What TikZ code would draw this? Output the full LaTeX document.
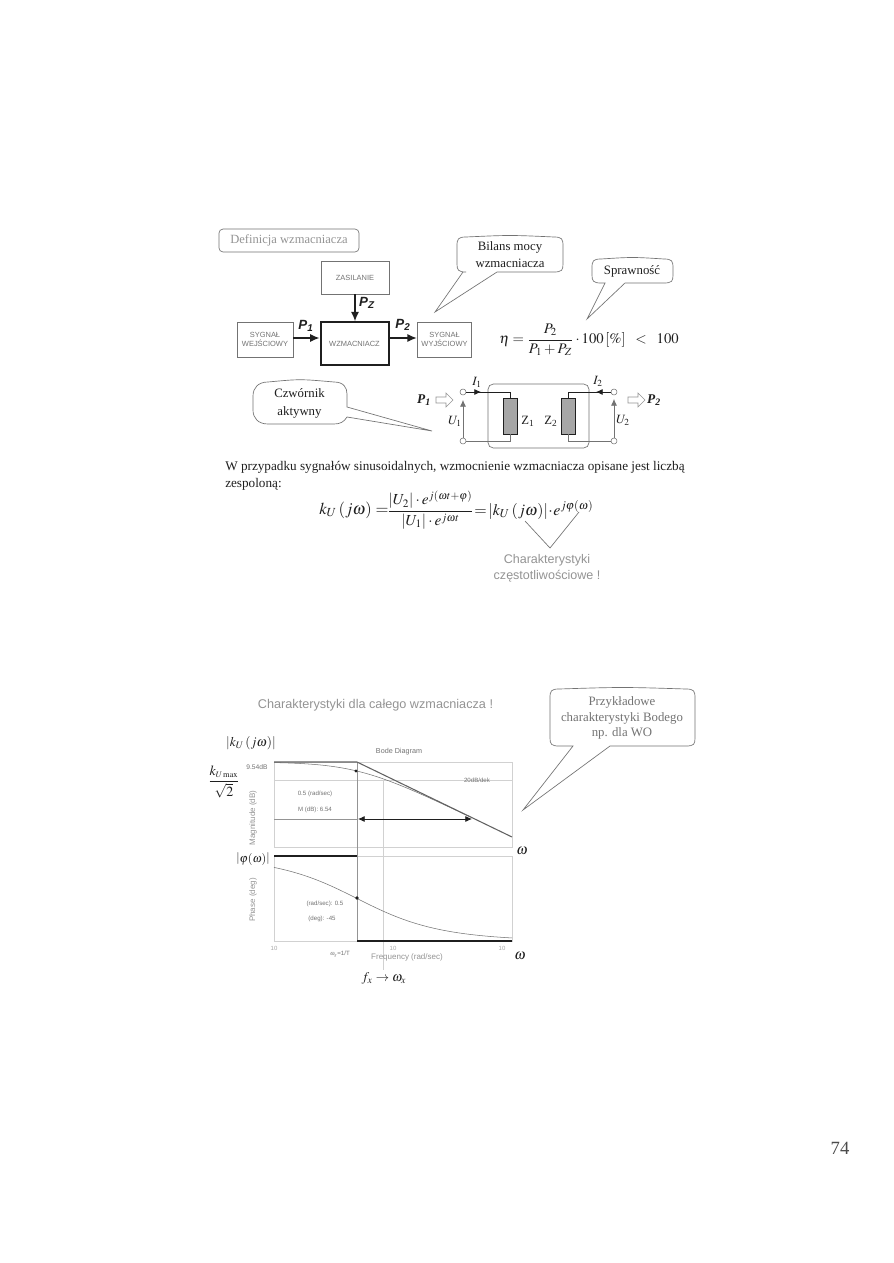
\documentclass[tikz,border=0pt]{standalone}
\usepackage{amsmath}
\usepackage{mathptmx}
\usepackage[no-math]{fontspec}
\setmainfont{Liberation Serif}
\setsansfont{Liberation Sans}
\usetikzlibrary{arrows.meta,calc}
\definecolor{ink}{gray}{0.12}
\definecolor{mid}{gray}{0.45}
\definecolor{soft}{gray}{0.58}
\definecolor{faint}{gray}{0.82}
\newcommand{\fs}[1]{\fontsize{#1}{#1}\selectfont}
% balloon: x1,y1,x2,y2, tail base start, tail base end, tip x, tip y (tail on the bottom edge)
\newcommand{\balloonB}[8]{%
 \draw[balloonline] ({#1+9},#2) .. controls ({(#1+#3)/2},{#2-2}) .. ({#3-9},#2)
  .. controls ({#3-1},#2) and (#3,{#2+2}) .. (#3,{#2+9})
  -- (#3,{#4-8}) .. controls (#3,{#4-2}) and ({#3-1},#4) .. ({#3-9},#4)
  -- (#6,#4) -- (#7,#8) -- (#5,#4) -- ({#1+9},#4)
  .. controls ({#1+1},#4) and (#1,{#4-2}) .. (#1,{#4-8})
  -- (#1,{#2+9}) .. controls (#1,{#2+2}) and ({#1+1},#2) .. ({#1+9},#2) -- cycle;}
% open block arrow from #1 to #2, horizontal, pointing right
\newcommand{\blockarrow}[2]{%
 \draw[hollow] ($(#1)+(0,-3)$) -- ($(#2)+(-7,-3)$) -- ($(#2)+(-7,-7)$) -- (#2)
   -- ($(#2)+(-7,7)$) -- ($(#2)+(-7,3)$) -- ($(#1)+(0,3)$) -- cycle;}
\tikzset{
 balloonline/.style={draw=mid,line width=0.5pt},
 ctext/.style={inner sep=0pt,align=center,text=ink,font=\fs{9.6}\rmfamily},
 blockbox/.style={draw=mid,line width=0.6pt,inner sep=0pt,align=center,font=\fs{5.6}\sffamily,text=mid},
 flow/.style={draw=ink,line width=0.9pt,-{Latex[length=7pt,width=6pt]}},
 plabel/.style={inner sep=0pt,font=\fs{10}\sffamily\bfseries\itshape,text=ink},
 port/.style={circle,draw=mid,fill=white,line width=0.4pt,inner sep=0pt,minimum size=4.5pt},
 wire/.style={draw=ink,line width=0.5pt},
 wiresoft/.style={draw=mid,line width=0.5pt},
 imped/.style={draw=ink,fill=gray!70,line width=0.5pt,inner sep=0pt,minimum width=10.5pt,minimum height=27pt},
 smallhead/.style={-{Latex[length=5pt,width=4.5pt]}},
 hollow/.style={line width=0.45pt,draw=soft,fill=white},
 mlabel/.style={inner sep=0pt,text=ink},
 axt/.style={inner sep=0pt,text=soft,font=\fs{4.8}\sffamily},
 axd/.style={inner sep=0pt,text=mid,font=\fs{4.6}\sffamily},
 axrot/.style={inner sep=0pt,text=soft,font=\fs{6}\sffamily,rotate=90},
 grid/.style={draw=faint,line width=0.4pt},
 tickl/.style={inner sep=0pt,text=faint!80!black,font=\fs{4.5}\sffamily},
}
\begin{document}
\begin{tikzpicture}[x=0.75pt,y=-0.75pt]
\useasboundingbox (0,0) rectangle (893,1263);
\fill[white] (0,0) rectangle (893,1263);

% heading
\node[draw=mid,rounded corners=3pt,line width=0.5pt,minimum width=105pt,minimum height=17.2pt,inner sep=0pt,text=soft,font=\fs{9.4}\rmfamily] (defbox) at (289,240.5) {Definicja wzmacniacza};

% balloons
\balloonB{457}{237}{563}{272}{463}{497}{435}{312}
\node[ctext] (bilans) at (510,254.5) {Bilans mocy\\[3.6pt]wzmacniacza};
\balloonB{592}{259}{673}{283}{605}{625}{587}{319}
\node[ctext] (spraw) at (632,271) {Sprawność};
% czwornik balloon (tail on right edge)
\draw[balloonline] (268,382) .. controls (300,379) .. (334,382) .. controls (344,382) and (347,388) .. (347,394)
 -- (347,407) -- (432,431) -- (347,417) .. controls (344,422) and (340,424) .. (334,424)
 -- (268,424) .. controls (258,424) and (253,418) .. (253,410) -- (253,396) .. controls (253,388) and (258,382) .. (268,382) -- cycle;
\node[ctext] (czw) at (299.5,403) {Czwórnik\\[3.8pt]aktywny};
\balloonB{550}{689}{695}{746}{573}{610}{523}{810}
\node[ctext,text=mid] (przyk) at (622,718) {Przykładowe\\[2pt]charakterystyki Bodego\\[2pt]np. dla WO};

% block diagram
\node[blockbox,minimum width=51pt,minimum height=24.7pt] (zas) at (355,277.5) {ZASILANIE};
\node[blockbox,draw=ink,line width=1.5pt,minimum width=51pt,minimum height=32pt] (wzm) at (354.5,343.5) {WZMACNIACZ};
\node[blockbox,minimum width=42pt,minimum height=26.2pt] (wej) at (265,339.5) {SYGNAŁ\\[1.5pt]WEJŚCIOWY};
\node[blockbox,minimum width=41pt,minimum height=26.2pt] (wyj) at (444.5,339.5) {SYGNAŁ\\[1.5pt]WYJŚCIOWY};
\draw[flow] (zas.south) -- (zas.south |- wzm.north);
\draw[flow] (wej.east |- 0,338) -- (wzm.west |- 0,338);
\draw[flow] (wzm.east |- 0,338) -- (wyj.west |- 0,338);
\node[plabel] (pz) at (367,303) {P\textsubscript{Z}};
\node[plabel] (p1) at (306,326) {P\textsubscript{1}};
\node[plabel] (p2) at (403,325) {P\textsubscript{2}};

% efficiency formula
\node[mlabel,font=\fs{11}] (eff) at (589,340) {$\eta=\dfrac{P_2}{P_1+P_Z}\cdot 100\left[\%\right]\;\;<\;\;100$};

% two-port
\node[draw=mid,rounded corners=4pt,line width=0.5pt,minimum width=75.75pt,minimum height=48pt,inner sep=0pt] (frame) at (538.5,416) {};
\node[port] (a1) at (463,392) {};
\node[port] (a2) at (463,441) {};
\node[port] (b1) at (614,392) {};
\node[port] (b2) at (614,441) {};
\node[imped] (z1) at (510,416) {};
\node[imped] (z2) at (568,416) {};
\draw[wire] (a1) -- (z1.north |- a1) -- (z1.north);
\draw[wiresoft] (a2) -- (z1.south |- a2) -- (z1.south);
\draw[wire] (b1) -- (z2.north |- b1) -- (z2.north);
\draw[wiresoft] (b2) -- (z2.south |- b2) -- (z2.south);
\coordinate (i1tip) at (481,392);
\coordinate (i2tip) at (596,392);
\draw[draw=ink,line width=0.6pt,smallhead] (a1) -- (i1tip);
\draw[draw=ink,line width=0.6pt,smallhead] (b1) -- (i2tip);
\coordinate (u1tip) at (463,400);
\coordinate (u2tip) at (614,399);
\draw[draw=mid,line width=0.5pt,smallhead] (a2) -- (u1tip);
\draw[draw=mid,line width=0.5pt,smallhead] (b2) -- (u2tip);
\node[mlabel,font=\fs{9.5}] (i1) at (477,382) {$I_1$};
\node[mlabel,font=\fs{9.5}] (i2) at (598,381) {$I_2$};
\node[mlabel,font=\fs{9.5}] (u1) at (455,421) {$U_1$};
\node[mlabel,font=\fs{9.5}] (u2) at (623,420) {$U_2$};
\node[mlabel,font=\fs{9.5}\rmfamily] (z1l) at (528,421) {Z\textsubscript{1}};
\node[mlabel,font=\fs{9.5}\rmfamily] (z2l) at (551,421) {Z\textsubscript{2}};
\node[mlabel,font=\fs{10}\rmfamily\bfseries\itshape] (pp1) at (424,400) {P\textsubscript{1}};
\node[mlabel,font=\fs{10}\rmfamily\bfseries\itshape] (pp2) at (654,400) {P\textsubscript{2}};
\coordinate (h1a) at (436,400); \coordinate (h1b) at (453,400);
\coordinate (h2a) at (628,400); \coordinate (h2b) at (645,400);
\blockarrow{h1a}{h1b}
\blockarrow{h2a}{h2b}

% text
\node[inner sep=0pt,anchor=west,text=ink,font=\fs{9.9}\rmfamily] (t1) at (225,467) {\makebox[344.5pt][s]{W przypadku sygnałów sinusoidalnych, wzmocnienie wzmacniacza opisane jest liczbą}};
\node[inner sep=0pt,anchor=west,text=ink,font=\fs{9.9}\rmfamily] (t2) at (225,484) {zespoloną:};

% gain formula
\node[mlabel,font=\fs{12.5},anchor=west] (gainl) at (319,510) {$k_U\left(j\omega\right)=$};
\node[mlabel,font=\fs{11.5}] (gainf) at (430.5,510) {$\dfrac{\left|U_2\right|\cdot e^{j(\omega t+\varphi)}}{\left|U_1\right|\cdot e^{j\omega t}}$};
\node[mlabel,font=\fs{12},anchor=west] (gainr) at (474,510) {$=\!\left|k_U\left(j\omega\right)\right|\!\cdot\! e^{j\varphi(\omega)}$};
\coordinate (vee) at (550,548);
\coordinate (veeL) at (525,521);
\coordinate (veeR) at (579,512);
\draw[draw=mid,line width=0.5pt] (veeL) -- (vee) -- (veeR);
\node[inner sep=0pt,text=soft,align=center,font=\fs{9.4}\sffamily] (chr) at (547,568) {Charakterystyki\\[2.5pt]częstotliwościowe !};

% Bode
\node[inner sep=0pt,text=soft,font=\fs{9.5}\sffamily] (title) at (375.5,705) {Charakterystyki dla całego wzmacniacza !};
\node[mlabel,font=\fs{10}] (ku) at (251,743) {$\left|k_U\left(j\omega\right)\right|$};
\node[axd,font=\fs{5.4}\sffamily] (bd) at (399,752) {Bode Diagram};
\node[mlabel,font=\fs{10.5}] (kmax) at (224,782) {$\dfrac{k_{\scriptscriptstyle U\max}}{\sqrt{2}}$};
\node[axd,font=\fs{5}\sffamily] (db) at (257,767) {9.54dB};
\node[draw=faint,line width=0.5pt,minimum width=178.5pt,minimum height=63.75pt,inner sep=0pt] (mag) at (393,804.5) {};
\node[draw=faint,line width=0.5pt,minimum width=178.5pt,minimum height=63.75pt,inner sep=0pt] (pha) at (393,898.5) {};
\draw[grid] (mag.west |- 0,780) -- (mag.east |- 0,780);
\coordinate (glt) at (383,780);
\coordinate (glb) at (383,970);
\draw[grid] (glt) -- (glb);
\draw[draw=soft,line width=0.7pt] (357,762) -- (357,941);
% asymptotes and curves
\draw[draw=mid,line width=0.4pt] plot[domain=274:470,samples=50] (\x,{762+30*log10(1+10^(2*(\x-357)/124))});
\draw[draw=ink!70,line width=0.8pt] (274,762) -- (357,762) -- (512,837);
\draw[draw=mid,line width=0.4pt] plot[domain=274:512,samples=60] (\x,{856+85/90*atan(10^((\x-357)/124))});
\draw[draw=ink,line width=0.9pt] (274,856) -- (357,856);
\draw[draw=ink,line width=0.9pt] (357,941) -- (512,941);
\fill[ink] (356,771) circle (1.2pt);
\fill[ink] (357,898) circle (1.4pt);
\draw[draw=soft,line width=0.5pt] (274,819) -- (358,819);
\coordinate (ml) at (358,819);
\coordinate (mr) at (472,819);
\draw[draw=ink,line width=0.6pt,{Latex[length=5pt,width=4.5pt]}-{Latex[length=5pt,width=4.5pt]}] (ml) -- (mr);
\node[axd] (n1) at (315,794) {0.5 (rad/sec)};
\node[axd] (n2) at (315,810) {M (dB): 6.54};
\node[axd] (n3) at (477,780) {20dB/dek};
\node[axrot] (lm) at (253,818) {Magnitude (dB)};
\node[axrot] (lp) at (253,900) {Phase (deg)};
\node[mlabel,font=\fs{11}] (w1) at (522,851) {$\omega$};
\node[mlabel,font=\fs{11}] (w2) at (520,956) {$\omega$};
\node[mlabel,font=\fs{9}] (phi) at (253,859) {$\left|\varphi(\omega)\right|$};
\node[axd] (n4) at (325,904) {(rad/sec): 0.5};
\node[axd] (n5) at (322,919) {(deg): -45};
\node[axd] (wg) at (340,954) {$\omega_g$=1/T};
\node[axt,font=\fs{6}\sffamily] (fr) at (407,957) {Frequency (rad/sec)};
\node[tickl] (t10a) at (274,948) {10};
\node[tickl] (t10b) at (393,948) {10};
\node[tickl] (t10c) at (502,948) {10};
\node[mlabel,font=\fs{10}] (fx) at (384,978) {$f_x\rightarrow\omega_x$};

% page number
\node[inner sep=0pt,text=ink!80,font=\fs{14}\rmfamily] (pg) at (840,1148) {74};
\end{tikzpicture}
\end{document}
